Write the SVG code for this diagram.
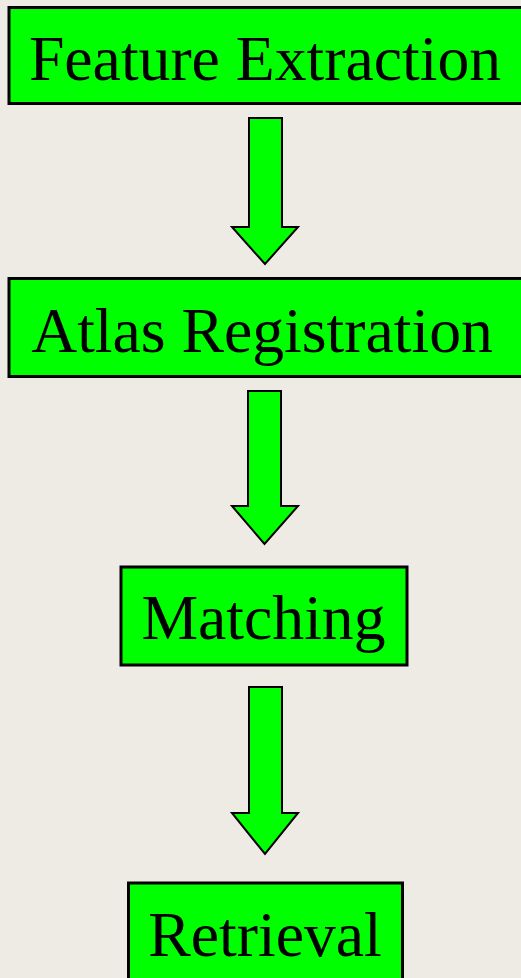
<svg xmlns="http://www.w3.org/2000/svg" width="521" height="978" viewBox="0 0 521 978">
<style>
.box{fill:#00FF00;stroke:#000;stroke-width:3}
.arr{fill:#00FF00;stroke:#000;stroke-width:2;stroke-linejoin:miter}
</style>
<rect width="521" height="978" fill="#EEEBE4"/>
<g id="connectors">
<polygon class="arr" points="249,118 282,118 282,227 298,227 265,264 232,227 249,227"/>
<polygon class="arr" points="248,391 281,391 281,506 298,506 264.5,544 232,506 248,506"/>
<polygon class="arr" points="249,687 282,687 282,813 298,813 265,854 232,813 249,813"/>
</g>
<g id="node-feature">
<rect class="box" x="9" y="7.5" width="520" height="96"/>
<text font-family="'Liberation Serif'" font-size="63.7" text-anchor="middle" fill="#000" x="265" y="80">Feature Extraction</text>
</g>
<g id="node-atlas">
<rect class="box" x="9" y="278.5" width="520" height="98"/>
<text font-family="'Liberation Serif'" font-size="63.7" text-anchor="middle" fill="#000" x="262" y="352">Atlas Registration</text>
</g>
<g id="node-matching">
<rect class="box" x="121" y="567" width="286" height="98"/>
<text font-family="'Liberation Serif'" font-size="63.7" text-anchor="middle" fill="#000" x="263.5" y="639">Matching</text>
</g>
<g id="node-retrieval">
<rect class="box" x="128.5" y="883" width="274" height="110"/>
<text font-family="'Liberation Serif'" font-size="63.7" text-anchor="middle" fill="#000" x="265" y="956">Retrieval</text>
</g>
</svg>
